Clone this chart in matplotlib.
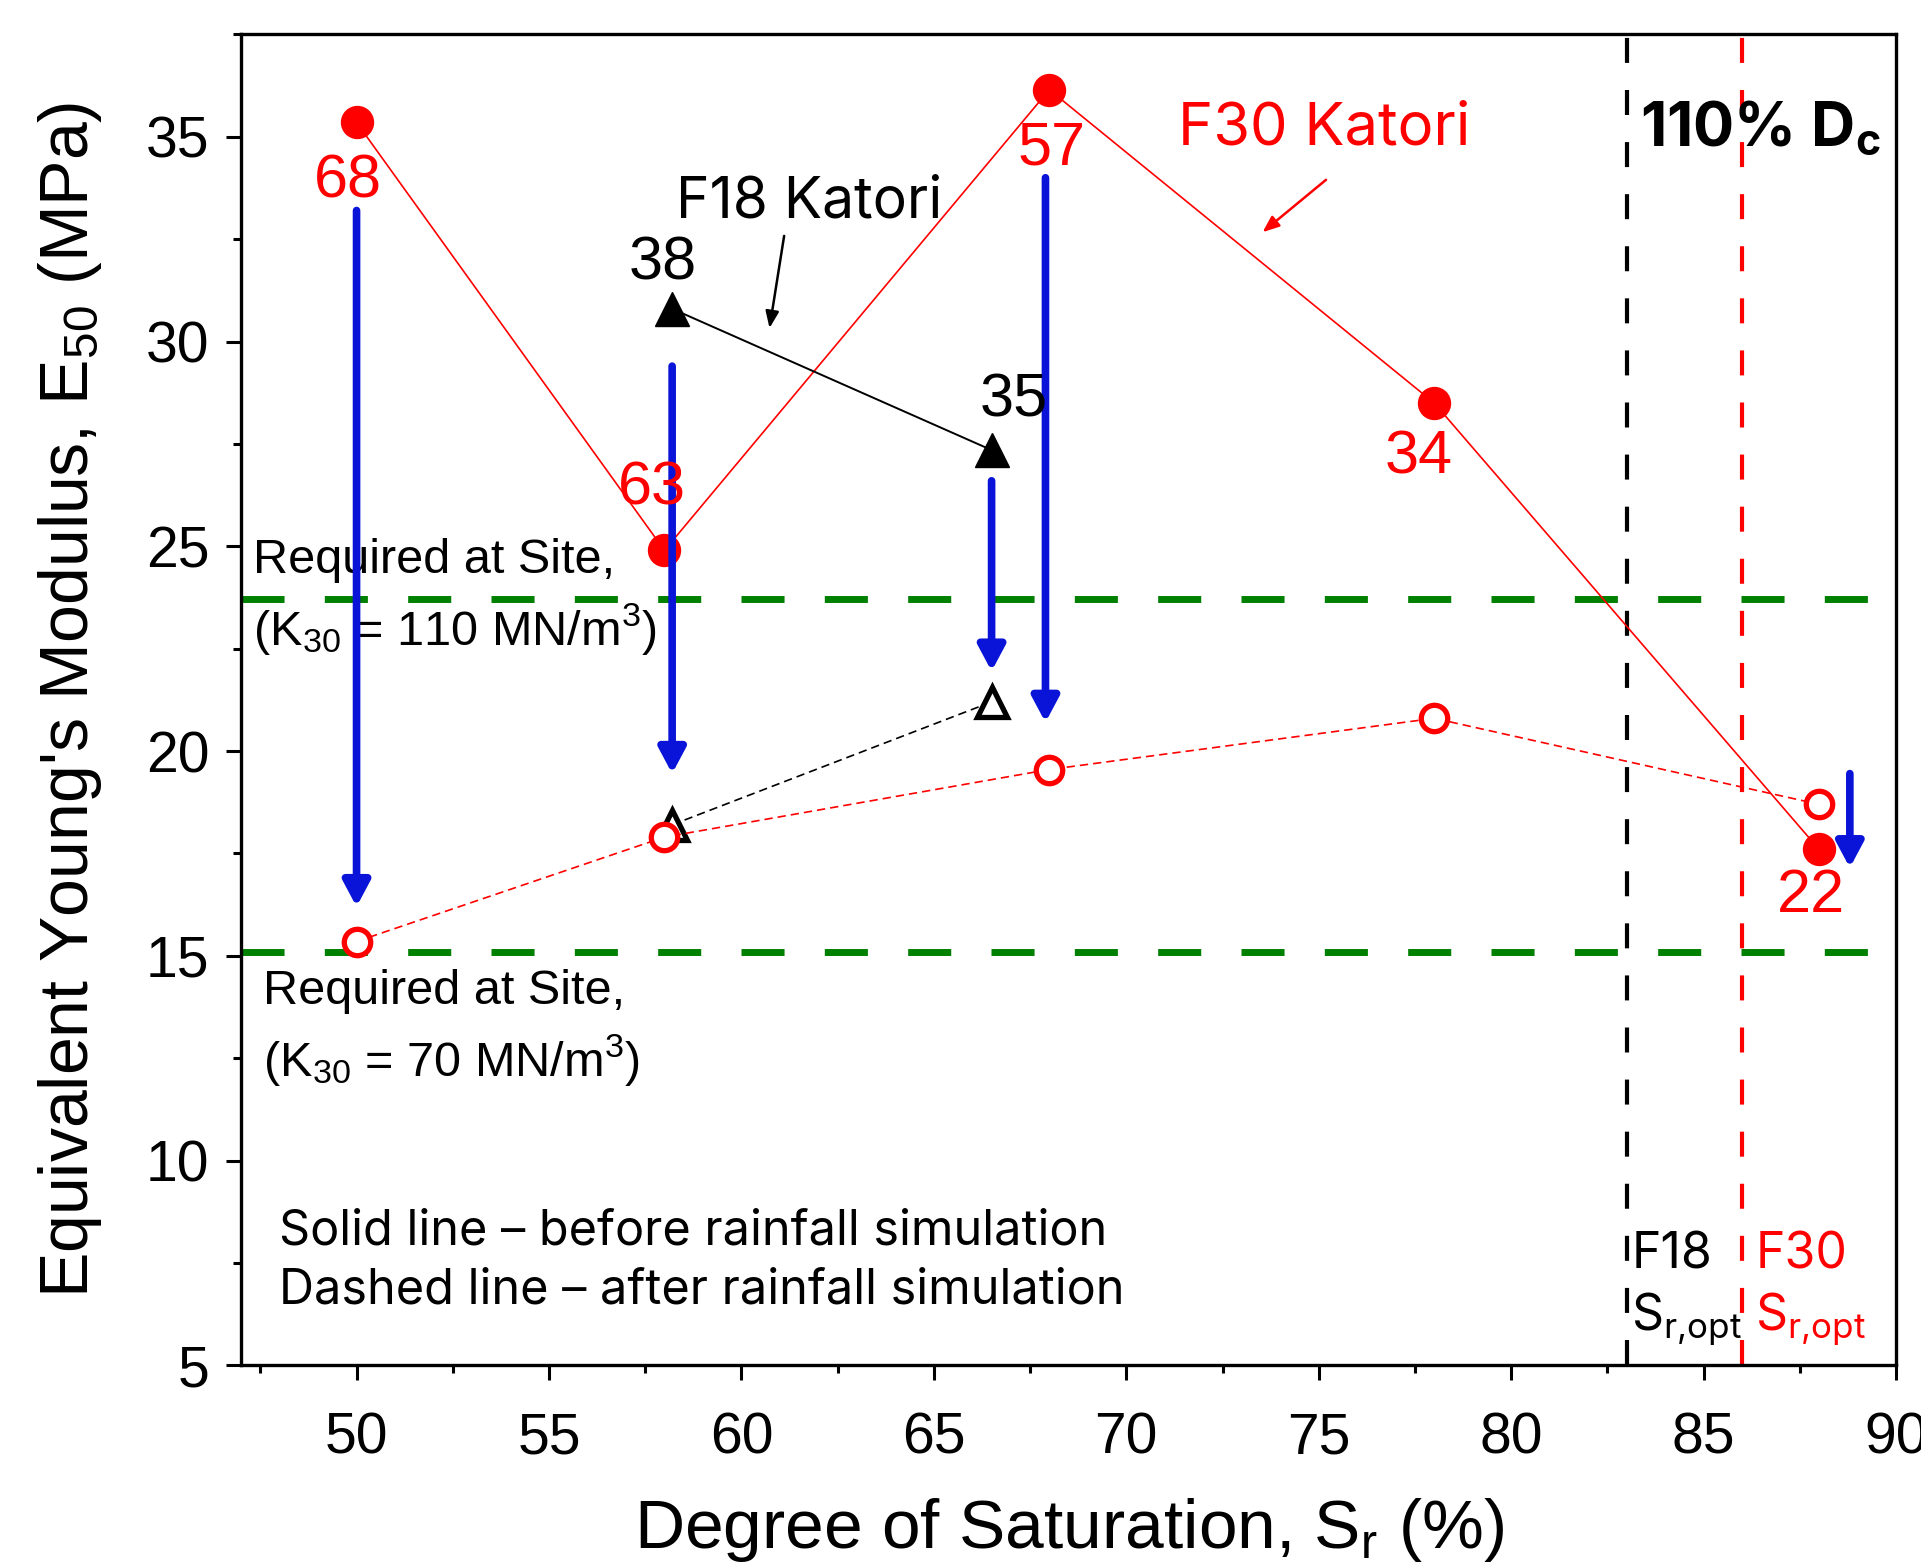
import matplotlib
matplotlib.use('Agg')
import matplotlib.pyplot as plt
from matplotlib.ticker import MultipleLocator

# F30 Katori (circles) and F18 Katori (triangles), before / after rainfall
f30_sr = [50, 58, 68, 78, 88]
f30_before = [35.35, 24.9, 36.15, 28.5, 17.6]
f30_after = [15.35, 17.9, 19.55, 20.8, 18.7]
f30_tags = ['68', '63', '57', '34', '22']

f18_sr = [58.2, 66.5]
f18_before = [30.8, 27.35]
f18_after = [18.2, 21.2]
f18_tags = ['38', '35']

# blue arrows (x, start, end)
drop_x = [50, 58.2, 66.5, 67.9, 88.8]
drop_from = [33.2, 29.4, 26.6, 34.0, 19.45]
drop_to = [16.2, 19.45, 21.95, 20.7, 17.15]

required_e50 = [23.72, 15.1]
sr_opt_f18 = 83.0
sr_opt_f30 = 86.0

RED = '#ff0000'
BLUE = '#0a14d8'
GREEN = '#008000'
ANNOT = ['Inter', 'DejaVu Sans']

plt.rcParams['font.family'] = ['Liberation Sans', 'DejaVu Sans']
plt.rcParams['mathtext.fontset'] = 'custom'
plt.rcParams['mathtext.rm'] = 'Liberation Sans'
plt.rcParams['mathtext.it'] = 'Liberation Sans'

fig = plt.figure(figsize=(19.21, 15.64), dpi=100)
ax = fig.add_axes([0.1255, 0.127, 0.8615, 0.851])

# required values at site
for yv in required_e50:
    ax.axhline(yv, color=GREEN, lw=5, dashes=(6.2, 5.8), zorder=1)

# optimum saturation lines
ax.axvline(sr_opt_f18, color='black', lw=3, dashes=(6, 6.5), zorder=1)
ax.axvline(sr_opt_f30, color=RED, lw=3, dashes=(6, 6.5), zorder=1)

# F30 series
ax.plot(f30_sr, f30_before, color=RED, lw=1.2, marker='o', ms=23,
        mfc=RED, mec=RED, zorder=3)
ax.plot(f30_sr, f30_after, color=RED, lw=1.2, dashes=(5, 3), marker='o',
        ms=19, mfc='white', mec=RED, mew=3.8, zorder=4)

# F18 series
ax.plot(f18_sr, f18_before, color='black', lw=1.4, marker='^', ms=25,
        mfc='black', mec='black', zorder=3)
ax.plot(f18_sr, f18_after, color='black', lw=1.2, dashes=(5, 3), marker='^',
        ms=21, mfc='white', mec='black', mew=3.8, zorder=3)

# drop arrows
for x, y0, y1 in zip(drop_x, drop_from, drop_to):
    ax.annotate('', xy=(x, y1), xytext=(x, y0),
                arrowprops=dict(arrowstyle='-|>,head_length=15,head_width=8',
                                mutation_scale=1, lw=5.5, color=BLUE,
                                shrinkA=0, shrinkB=0),
                zorder=5)

# point tags
tag_pos30 = [(49.78, 33.9), (57.67, 26.4), (68.06, 34.7), (77.6, 27.15), (87.8, 16.45)]
for (tx, ty), t in zip(tag_pos30, f30_tags):
    ax.text(tx, ty, t, color=RED, fontsize=44, ha='center', va='center', zorder=6)
tag_pos18 = [(57.96, 31.9), (67.07, 28.55)]
for (tx, ty), t in zip(tag_pos18, f18_tags):
    ax.text(tx, ty, t, color='black', fontsize=44, ha='center', va='center', zorder=6)

# series names with pointer arrows
ax.text(61.75, 33.4, 'F18 Katori', fontsize=41, ha='center', va='center',
        family=ANNOT)
ax.annotate('', xy=(60.73, 30.33), xytext=(61.11, 32.58),
            arrowprops=dict(arrowstyle='-|>,head_length=10,head_width=4',
                            mutation_scale=1, lw=1.8, color='black',
                            shrinkA=0, shrinkB=0))
ax.text(75.13, 35.2, 'F30 Katori', fontsize=43, ha='center', va='center',
        color=RED, family=ANNOT)
ax.annotate('', xy=(73.54, 32.67), xytext=(75.19, 33.95),
            arrowprops=dict(arrowstyle='-|>,head_length=10,head_width=4',
                            mutation_scale=1, lw=1.8, color=RED,
                            shrinkA=0, shrinkB=0))
ax.text(83.35, 35.2, r'110% D$_\mathregular{c}$', fontsize=44, fontweight='bold',
        ha='left', va='center', family=ANNOT)

ax.text(47.32, 23.75, 'Required at Site,\n(K$_{30}$ = 110 MN/m$^3$)', fontsize=35,
        ha='left', va='center', linespacing=1.4)
ax.text(47.58, 13.22, 'Required at Site,\n(K$_{30}$ = 70 MN/m$^3$)', fontsize=35,
        ha='left', va='center', linespacing=1.4)
ax.text(47.99, 7.55, 'Solid line \u2013 before rainfall simulation\n'
        'Dashed line \u2013 after rainfall simulation', fontsize=35,
        ha='left', va='center', linespacing=1.35, family=ANNOT)

ax.text(83.12, 6.85, 'F18\nS$_{\\mathregular{r{,}opt}}$', fontsize=36, ha='left',
        va='center', linespacing=1.3, family=ANNOT)
ax.text(86.34, 6.85, 'F30\nS$_{\\mathregular{r{,}opt}}$', fontsize=36, ha='left',
        va='center', linespacing=1.3, color=RED, family=ANNOT)

ax.set_xlim(47, 90)
ax.set_ylim(5, 37.5)
ax.xaxis.set_major_locator(MultipleLocator(5))
ax.xaxis.set_minor_locator(MultipleLocator(2.5))
ax.yaxis.set_major_locator(MultipleLocator(5))
ax.yaxis.set_minor_locator(MultipleLocator(2.5))
ax.tick_params(which='major', length=11, width=2.2, labelsize=41)
ax.tick_params(axis='x', which='major', pad=22)
ax.tick_params(axis='y', which='major', pad=12)
ax.tick_params(which='minor', length=6, width=2.2)
for sp in ax.spines.values():
    sp.set_linewidth(2.4)

ax.set_ylabel("Equivalent Young's Modulus, E$_{50}$ (MPa)", fontsize=49)
ax.yaxis.set_label_coords(-0.1035, 0.5)
ax.yaxis.label.set_va('center')
ax.set_xlabel('Degree of Saturation, S$_r$ (%)', fontsize=50)
ax.xaxis.set_label_coords(0.5, -0.1375)
ax.xaxis.label.set_va('baseline')

fig.savefig('out.png', dpi=100)
